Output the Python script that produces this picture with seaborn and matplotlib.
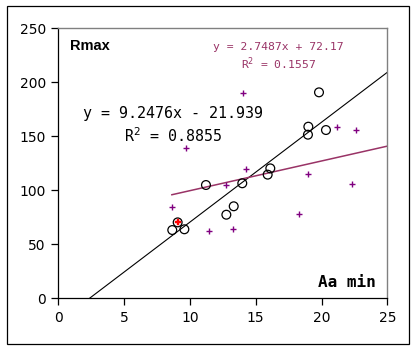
import numpy as np
import pandas as pd
import seaborn as sns
import matplotlib
matplotlib.use("Agg")
import matplotlib.pyplot as plt
from matplotlib.patches import Rectangle

# Rmax vs Aa min (open circles)
aa_min = [8.66, 9.07, 9.58, 11.22, 12.77, 13.33, 13.98, 15.91, 16.11, 18.97, 19.00, 19.81, 20.34]
rmax = [63.2, 70.3, 63.9, 104.9, 77.4, 85.2, 106.5, 114.5, 120.3, 151.5, 158.9, 190.7, 155.8]

# second series (purple crosses)
aa_min_2 = [8.63, 9.68, 11.43, 12.77, 13.30, 14.03, 14.26, 18.27, 18.95, 21.18, 22.32, 22.65]
rmax_2 = [84.8, 139.2, 62.3, 104.6, 63.9, 190.1, 120.0, 77.8, 114.8, 158.3, 106.1, 155.5]

# highlighted point
hi_x = [9.07]
hi_y = [70.3]

# trendline coefficients
slope_1, icpt_1, r2_1 = 9.2476, -21.939, 0.8855
slope_2, icpt_2, r2_2 = 2.7487, 72.17, 0.1557

x_ticks = [0, 5, 10, 15, 20, 25]
y_ticks = [0, 50, 100, 150, 200, 250]

fig = plt.figure(figsize=(4.15, 3.48), dpi=100)
fig.patch.set_facecolor("white")
ax = fig.add_axes([58.3 / 415, 49.7 / 348, 329 / 415, 270 / 348])

# outer frame
fig.patches.append(Rectangle((6.5 / 415, 4.5 / 348), 402 / 415, 337.5 / 348,
                             transform=fig.transFigure, fill=False,
                             edgecolor="black", linewidth=0.9))

# trendlines
x1 = np.array([-icpt_1 / slope_1, 25.0])
line1 = pd.DataFrame({"x": x1, "y": slope_1 * x1 + icpt_1})
x2 = np.array([min(aa_min_2), 25.0])
line2 = pd.DataFrame({"x": x2, "y": slope_2 * x2 + icpt_2})
sns.lineplot(data=line1, x="x", y="y", ax=ax, color="black", linewidth=0.8)
sns.lineplot(data=line2, x="x", y="y", ax=ax, color="#993366", linewidth=1.1)

sns.scatterplot(x=aa_min, y=rmax, ax=ax, marker="o", s=40,
                facecolor="none", edgecolor="black", linewidth=0.9, zorder=3)
sns.scatterplot(x=aa_min_2, y=rmax_2, ax=ax, marker="+", s=16,
                color="#800080", linewidth=1.0, zorder=3)
sns.scatterplot(x=hi_x, y=hi_y, ax=ax, marker="P", s=24,
                color="red", edgecolor="red", linewidth=0.3, zorder=4)

ax.set_xlim(0, 25)
ax.set_ylim(0, 250)
ax.set_xticks(x_ticks)
ax.set_yticks(y_ticks)
ax.set_xticklabels([str(v) for v in x_ticks], fontsize=10)
ax.set_yticklabels([str(v) for v in y_ticks], fontsize=10)
ax.set_xlabel("")
ax.set_ylabel("")
ax.tick_params(direction="out", length=5, width=0.9, color="black", pad=4)
for side in ["left", "bottom"]:
    ax.spines[side].set_color("black")
    ax.spines[side].set_linewidth(0.9)
for side in ["top", "right"]:
    ax.spines[side].set_color("#808080")
    ax.spines[side].set_linewidth(1.0)

ax.text(0.036, 0.935, "Rmax", transform=ax.transAxes, fontsize=10.5,
        fontweight="bold", family="Liberation Sans", ha="left", va="center")
ax.text(0.965, 0.06, "Aa min", transform=ax.transAxes, fontsize=11.5,
        fontweight="bold", family="DejaVu Sans Mono", ha="right", va="center")

ax.text(8.72, 171.2, f"y = {slope_1}x - {abs(icpt_1)}", fontsize=10.8,
        family="DejaVu Sans Mono", ha="center", va="center")
ax.text(8.72, 151.0, f"R$^2$ = {r2_1}", fontsize=10.8,
        family="DejaVu Sans Mono", ha="center", va="center")
ax.text(16.7, 233.0, f"y = {slope_2}x + {icpt_2}", fontsize=8.2,
        family="DejaVu Sans Mono", color="#993366", ha="center", va="center")
ax.text(16.7, 217.5, f"R$^2$ = {r2_2}", fontsize=8.2,
        family="DejaVu Sans Mono", color="#993366", ha="center", va="center")

fig.savefig("out.png", dpi=100)
